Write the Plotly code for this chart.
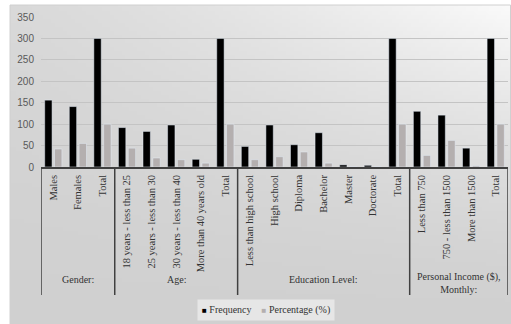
import base64, struct, zlib
import plotly.graph_objects as go

# ---------------- data ----------------
groups = ["Gender:", "Age:", "Education Level:", "Personal Income ($),<br>Monthly:"]
group_sizes = [3, 5, 7, 4]
categories = [
    "Males", "Females", "Total",
    "18 years - less than 25", "25 years - less than 30", "30 years - less than 40",
    "More than 40 years old", "Total",
    "Less than high school", "High school", "Diploma", "Bachelor", "Master",
    "Doctorate", "Total",
    "Less than 750", "750 - less than 1500", "More than 1500", "Total",
]
frequency = [156, 141, 300, 92, 83, 98, 18, 300, 48, 98, 52, 80, 5, 4, 300, 130, 121, 44, 300]
percentage = [42, 55, 100, 44, 21, 17, 9, 100, 17, 24, 35, 9, 1, 1, 100, 27, 62, 3, 100]
y_ticks = [0, 50, 100, 150, 200, 250, 300, 350]
series_names = ["Frequency", "Percentage (%)"]
series_colors = ["#000000", "#b4afaf"]

# ---------------- background gradient image ----------------
W, H = 128, 80
rows = []
for j in range(H):
    w = j / (H - 1)
    row = []
    for i in range(W):
        u = i / (W - 1)
        v = 208 + 42 * (1 - w) ** 1.6 * (0.22 + 0.78 * u ** 1.3)
        row.append(max(0, min(255, int(round(v)))))
    rows.append(row)
raw = b"".join(b"\x00" + bytes(r) for r in rows)


def chunk(tag, data):
    c = struct.pack(">I", len(data)) + tag + data
    return c + struct.pack(">I", zlib.crc32(tag + data) & 0xFFFFFFFF)


png = (b"\x89PNG\r\n\x1a\n" + chunk(b"IHDR", struct.pack(">IIBBBBB", W, H, 8, 0, 0, 0, 0))
       + chunk(b"IDAT", zlib.compress(raw, 9)) + chunk(b"IEND", b""))
bg_uri = "data:image/png;base64," + base64.b64encode(png).decode()

# ---------------- figure ----------------
FIG_W, FIG_H = 511, 324
ML, MR, MT, MB = 41, 3, 17, 157
PW, PH = FIG_W - ML - MR, FIG_H - MT - MB


def py(pixel_y):
    """paper y for a pixel row measured from the top of the figure"""
    return (MT + PH - pixel_y) / PH


def px(pixel_x):
    return (pixel_x - ML) / PW


xs = list(range(len(categories)))
serif = "Liberation Serif"
txt_col = "#333333"

fig = go.Figure()
for name, vals, col in zip(series_names, [frequency, percentage], series_colors):
    fig.add_trace(go.Bar(x=xs, y=vals, name=name, marker_color=col, showlegend=False))

# group labels & dividers
bounds = [-0.5]
for s in group_sizes:
    bounds.append(bounds[-1] + s)
for b in bounds:
    fig.add_shape(type="line", xref="x", yref="paper", x0=b, x1=b, y0=0, y1=py(295),
                  line=dict(color="#404040", width=1.5))
for g, a, b in zip(groups, bounds[:-1], bounds[1:]):
    fig.add_annotation(x=(a + b) / 2, xref="x", y=py(283 if "<br>" in g else 279.5),
                       yref="paper", text=g, showarrow=False, yanchor="middle",
                       font=dict(family=serif, size=10, color=txt_col))

# compact legend (small square keys as in the original)
legend_text = "    ".join(
    f'<span style="color:{c}; font-size:8px">■</span> {n}'
    for n, c in zip(series_names, series_colors))
fig.add_annotation(x=px(265.5), xref="paper", y=py(309.5), yref="paper", text=legend_text,
                   showarrow=False, xanchor="center", yanchor="middle",
                   bgcolor="#e6e6e6", borderpad=4,
                   font=dict(family=serif, size=10, color=txt_col))

# outer chart border
fig.add_shape(type="rect", xref="paper", yref="paper",
              x0=px(10), x1=px(FIG_W - 0.5), y0=py(FIG_H), y1=py(5),
              line=dict(color="#d0d0d0", width=1), layer="below")

fig.add_layout_image(dict(source=bg_uri, xref="paper", yref="paper",
                          x=px(10), y=py(5),
                          sizex=(FIG_W - 10) / PW, sizey=(FIG_H - 5) / PH,
                          xanchor="left", yanchor="top", sizing="stretch", layer="below"))

fig.update_layout(
    width=FIG_W, height=FIG_H,
    margin=dict(l=ML, r=MR, t=MT, b=MB, pad=0),
    paper_bgcolor="#ffffff", plot_bgcolor="rgba(0,0,0,0)",
    barmode="group", bargap=0.2, bargroupgap=0.25,
    showlegend=False,
    xaxis=dict(range=[-0.5, len(categories) - 0.5], tickmode="array", tickvals=xs,
               ticktext=categories, tickangle=-90, ticks="", showgrid=False, zeroline=False,
               showline=True, linecolor="#404040", linewidth=1.5,
               tickfont=dict(family=serif, size=10.5, color=txt_col), ticklabelstandoff=2),
    yaxis=dict(range=[0, 350], tickmode="array", tickvals=y_ticks, showgrid=True,
               gridcolor="#c4c4c4", gridwidth=1, zeroline=False, showline=False, ticks="",
               tickfont=dict(family="Liberation Sans", size=10, color="#595959"),
               ticklabelstandoff=6),
)

fig.write_html("out.html", config={"displayModeBar": False},
               post_script="document.body.style.margin='0';"
                           "document.body.style.overflow='hidden';")
